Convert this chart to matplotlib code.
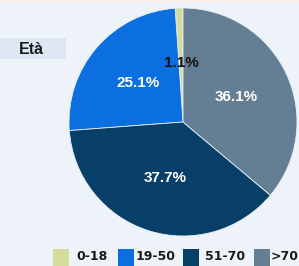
import matplotlib
matplotlib.use('Agg')
import matplotlib.pyplot as plt
from matplotlib.patches import Rectangle

# dati
categorie = ['0-18', '19-50', '51-70', '>70']
percentuali = [1.1, 25.1, 37.7, 36.1]
colori = ['#d3dc9c', '#0b6fe0', '#073f68', '#647f93']
colori_testo = ['#111111', 'white', 'white', 'white']
titolo = 'Età'

W, H = 299, 266
bg = '#eef3fa'

fig = plt.figure(figsize=(W / 100, H / 100), dpi=100)
fig.patch.set_facecolor(bg)

# striscia in alto
fig.add_artist(Rectangle((0, 1 - 2 / H), 1, 2 / H, transform=fig.transFigure,
                         facecolor='#fbeee6', edgecolor='none'))

# torta: centro (183,122) px, raggio 114 px
cx, cy, r = 183, 122, 114
ax = fig.add_axes([(cx - r) / W, (H - cy - r) / H, 2 * r / W, 2 * r / H])
ax.set_facecolor('none')
wedges, _, autotexts = ax.pie(percentuali, colors=colori, startangle=90,
                              counterclock=True, autopct='%1.1f%%',
                              pctdistance=0.52,
                              wedgeprops=dict(edgecolor='#e8eef6', linewidth=0.6))
for t, c in zip(autotexts, colori_testo):
    t.set_color(c)
    t.set_fontsize(11)
    t.set_fontweight('bold')
    t.set_family(['Liberation Sans', 'DejaVu Sans'])
ax.set_xlim(-1, 1)
ax.set_ylim(-1, 1)
ax.set_aspect('equal')

# etichetta "Età"
fig.add_artist(Rectangle((0, (H - 59) / H), 66 / W, 21 / H, transform=fig.transFigure,
                         facecolor='#dde7f3', edgecolor='none'))
fig.text(31 / W, (H - 49) / H, titolo, ha='center', va='center', fontsize=11.5,
         fontweight='bold', color='#1a1a1a', family=['Liberation Sans', 'DejaVu Sans'])

# legenda manuale
x_quad = [53, 118, 183, 254]
x_test = [76, 136, 205, 271]
for cat, col, xq, xt in zip(categorie, colori, x_quad, x_test):
    fig.add_artist(Rectangle((xq / W, 0), 16 / W, 17 / H, transform=fig.transFigure,
                             facecolor=col, edgecolor='none'))
    fig.text(xt / W, (H - 256) / H, cat, ha='left', va='center', fontsize=9,
             fontweight='bold', color='#1a1a1a', family='DejaVu Sans')

fig.savefig('out.png', dpi=100, facecolor=bg)
